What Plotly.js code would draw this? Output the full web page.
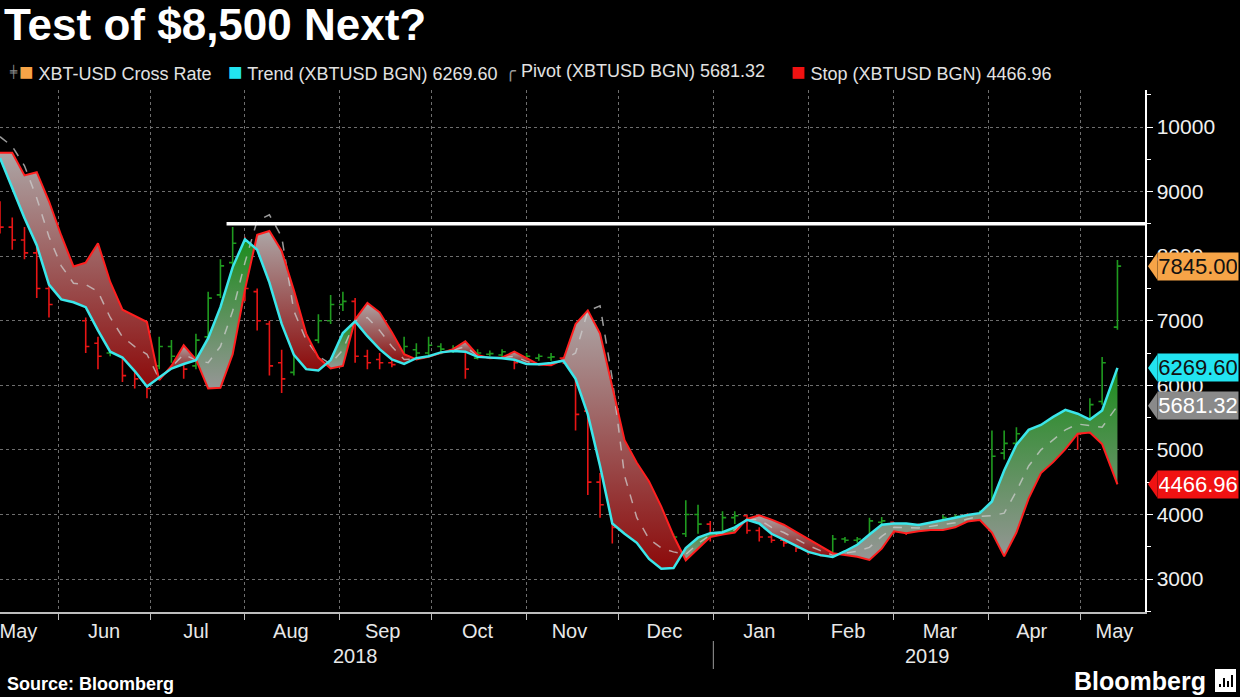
<!DOCTYPE html>
<html>
<head>
<meta charset="utf-8">
<script src="https://cdn.plot.ly/plotly-3.0.1.min.js"></script>
<style>
  html, body { margin: 0; padding: 0; background: #000; }
  #chart { width: 1240px; height: 697px; }
</style>
</head>
<body>
<div id="chart"></div>
<script>
// one sample every four days, May 2018 - May 2019
const dates = [
  '2018-05-13','2018-05-17','2018-05-21','2018-05-25','2018-05-29','2018-06-02','2018-06-06','2018-06-10','2018-06-14','2018-06-18',
  '2018-06-22','2018-06-26','2018-06-30','2018-07-04','2018-07-08','2018-07-12','2018-07-16','2018-07-20','2018-07-24','2018-07-28',
  '2018-08-01','2018-08-05','2018-08-09','2018-08-13','2018-08-17','2018-08-21','2018-08-25','2018-08-29','2018-09-02','2018-09-06',
  '2018-09-10','2018-09-14','2018-09-18','2018-09-22','2018-09-26','2018-09-30','2018-10-04','2018-10-08','2018-10-12','2018-10-16',
  '2018-10-20','2018-10-24','2018-10-28','2018-11-01','2018-11-05','2018-11-09','2018-11-13','2018-11-17','2018-11-21','2018-11-25',
  '2018-11-29','2018-12-03','2018-12-07','2018-12-11','2018-12-15','2018-12-19','2018-12-23','2018-12-27','2018-12-31','2019-01-04',
  '2019-01-08','2019-01-12','2019-01-16','2019-01-20','2019-01-24','2019-01-28','2019-02-01','2019-02-05','2019-02-09','2019-02-13',
  '2019-02-17','2019-02-21','2019-02-25','2019-03-01','2019-03-05','2019-03-09','2019-03-13','2019-03-17','2019-03-21','2019-03-25',
  '2019-03-29','2019-04-02','2019-04-06','2019-04-10','2019-04-14','2019-04-18','2019-04-22','2019-04-26','2019-04-30','2019-05-04',
  '2019-05-08','2019-05-13'
];

// XBT-USD cross rate bars
const barOpen = [
  8700, 8450, 8250, 8050, 7500, 7450, 7600, 7000, 6650, 6500,
  6650, 6300, 6250, 6300, 6600, 6450, 6300, 6750, 7400, 7900,
  8150, 7450, 6950, 6350, 6200, 6450, 6700, 7000, 7250, 7300,
  6450, 6400, 6350, 6400, 6550, 6500, 6600, 6550, 6550, 6420,
  6480, 6470, 6450, 6350, 6420, 6430, 6420, 6350, 5600, 4500,
  4100, 3800, 4100, 3700, 3450, 3300, 3700, 4000, 3850, 3700,
  3950, 3980, 3750, 3650, 3600, 3560, 3480, 3410, 3400, 3620,
  3600, 3620, 3880, 3880, 3800, 3800, 3840, 3880, 3950, 3990,
  3980, 4100, 4950, 5100, 5250, 5100, 5250, 5500, 5300, 5300,
  5750, 6900
];
const barHigh = [
  8850, 8600, 8450, 8200, 7650, 7780, 7750, 7050, 6750, 6800,
  6700, 6420, 6350, 6750, 6700, 6550, 6800, 7450, 7950, 8450,
  8300, 7500, 7000, 6550, 6600, 6820, 7100, 7400, 7450, 7350,
  6550, 6500, 6450, 6750, 6650, 6750, 6650, 6620, 6580, 6560,
  6540, 6560, 6460, 6500, 6490, 6500, 6440, 6380, 5620, 4640,
  4300, 4350, 4200, 3760, 3550, 3700, 4220, 4150, 3900, 4050,
  4050, 4000, 3800, 3700, 3650, 3600, 3520, 3450, 3680, 3650,
  3650, 3950, 3960, 3880, 3830, 3860, 3880, 3990, 4000, 4020,
  4060, 5300, 5300, 5350, 5280, 5300, 5350, 5600, 5350, 5800,
  6440, 7940
];
const barLow = [
  8350, 8100, 7950, 7350, 7050, 7400, 7420, 6500, 6250, 6450,
  6050, 5950, 5800, 6250, 6350, 6100, 6250, 6700, 7350, 7850,
  7300, 6850, 6150, 5880, 6150, 6400, 6650, 6950, 7150, 6350,
  6250, 6250, 6280, 6380, 6420, 6450, 6480, 6500, 6100, 6400,
  6450, 6440, 6250, 6330, 6380, 6380, 6330, 5300, 4300, 3950,
  3550, 3700, 3750, 3350, 3200, 3250, 3650, 3700, 3580, 3680,
  3850, 3700, 3580, 3560, 3500, 3420, 3380, 3350, 3380, 3560,
  3560, 3600, 3820, 3700, 3680, 3760, 3800, 3860, 3900, 3880,
  3960, 4080, 4850, 5000, 4950, 5000, 5100, 5300, 5000, 5250,
  5700, 6860
];
const barClose = [
  8450, 8250, 8050, 7500, 7250, 7600, 7500, 6600, 6450, 6700,
  6150, 6100, 5950, 6600, 6450, 6250, 6700, 7350, 7850, 8200,
  7500, 7000, 6300, 6100, 6500, 6700, 7000, 7250, 7300, 6450,
  6350, 6350, 6320, 6600, 6500, 6620, 6560, 6580, 6250, 6500,
  6490, 6520, 6350, 6450, 6450, 6440, 6360, 5550, 4500, 4150,
  3800, 4100, 3900, 3450, 3300, 3650, 4000, 3850, 3690, 3950,
  3980, 3750, 3650, 3600, 3560, 3480, 3410, 3360, 3620, 3600,
  3620, 3900, 3900, 3800, 3750, 3820, 3850, 3950, 3970, 3960,
  4050, 4900, 5100, 5250, 5050, 5200, 5200, 5350, 5250, 5700,
  6350, 7845.00
];

// Trend (XBTUSD BGN)
const trend = [
  9520, 9040, 8590, 8170, 7560, 7330, 7285, 7210, 6850, 6520,
  6430, 6220, 5980, 6120, 6260, 6330, 6390, 6730, 7210, 7830,
  8260, 8100, 7590, 6950, 6470, 6250, 6230, 6390, 6810, 6990,
  6760, 6560, 6400, 6330, 6420, 6450, 6510, 6530, 6520, 6440,
  6430, 6420, 6395, 6330, 6325, 6345, 6380, 6100, 5550, 4750,
  3860, 3700, 3560, 3310, 3160, 3170, 3480, 3640, 3710, 3725,
  3800, 3915, 3860, 3700, 3610, 3520, 3420, 3370, 3340, 3430,
  3530, 3690, 3840, 3860, 3860, 3835, 3870, 3915, 3950, 3990,
  4020, 4200, 4680, 5080, 5310, 5385, 5510, 5620, 5560, 5470,
  5610, 6269.60
];

// Stop (XBTUSD BGN)
const stop = [
  9600, 9600, 9250, 9300, 8850, 8320, 7840, 7900, 8200, 7600,
  7170, 7070, 6980, 6080, 6300, 6620, 6400, 5950, 5960, 6480,
  7480, 8330, 8390, 8080, 7470, 6800, 6430, 6260, 6300, 7020,
  7275, 7130, 6820, 6480, 6400, 6440, 6500, 6560, 6680, 6470,
  6420, 6430, 6520, 6420, 6320, 6310, 6400, 6950, 7160, 6800,
  5950, 5150, 4800, 4510, 4120, 3670, 3290, 3470, 3650, 3690,
  3720, 3930, 3985, 3920, 3840, 3730, 3620, 3500, 3400, 3370,
  3345, 3295, 3470, 3740, 3710, 3740, 3760, 3760, 3800, 3890,
  3915, 3720, 3350, 3720, 4250, 4640, 4810, 5010, 5250, 5270,
  5090, 4466.96
];

// Pivot (XBTUSD BGN)
const pivot = [
  9850, 9700, 9400, 8900, 8300, 7850, 7580, 7560, 7450, 7050,
  6750, 6600, 6480, 6100, 6280, 6480, 6390, 6350, 6600, 7150,
  7900, 8550, 8640, 8300, 7150, 6700, 6450, 6330, 6550, 7000,
  7050, 6850, 6600, 6400, 6410, 6445, 6505, 6545, 6600, 6455,
  6425, 6425, 6450, 6370, 6322, 6330, 6390, 6500, 7150, 7230,
  6100, 4600, 3950, 3620, 3480, 3420, 3380, 3550, 3680, 3710,
  3760, 3920, 3920, 3800, 3720, 3620, 3520, 3440, 3370, 3400,
  3430, 3490, 3660, 3800, 3790, 3790, 3815, 3840, 3870, 3930,
  3970, 3980, 4020, 4360, 4750, 5000, 5150, 5310, 5400, 5380,
  5350, 5681.32
];

const resistance = 8500;
const resistanceFrom = '2018-07-26';

const monthStarts = ['2018-06-01','2018-07-01','2018-08-01','2018-09-01','2018-10-01','2018-11-01',
  '2018-12-01','2019-01-01','2019-02-01','2019-03-01','2019-04-01','2019-05-01'];
const monthLabelDates = ['2018-05-19','2018-06-16','2018-07-16','2018-08-16','2018-09-15','2018-10-16',
  '2018-11-15','2018-12-16','2019-01-16','2019-02-14','2019-03-16','2019-04-15','2019-05-12'];
const monthLabels = ['May','Jun','Jul','Aug','Sep','Oct','Nov','Dec','Jan','Feb','Mar','Apr','May'];
const yearLabels = ['2018', '2019'];
const yearLabelDates = ['2018-09-06', '2019-03-12'];

const GREEN = '#1f9a1f';
const RED = '#e81515';
const CYAN = '#3be6ea';
const FONT = 'Liberation Sans, Arial, sans-serif';
const n = dates.length;

// split the trend/stop ribbon where the two lines cross
const ms = dates.map(d => Date.parse(d));
function crossing(i) {
    const d0 = trend[i - 1] - stop[i - 1];
    const d1 = trend[i] - stop[i];
    const f = d0 / (d0 - d1);
    return {
        x: ms[i - 1] + f * (ms[i] - ms[i - 1]),
        y: trend[i - 1] + f * (trend[i] - trend[i - 1])
    };
}
const bands = [];
let seg = { up: trend[0] > stop[0], xs: [ms[0]], t: [trend[0]], s: [stop[0]] };
for (let i = 1; i < n; i++) {
    const up = trend[i] > stop[i];
    if (up !== seg.up) {
        const c = crossing(i);
        seg.xs.push(c.x); seg.t.push(c.y); seg.s.push(c.y);
        bands.push(seg);
        seg = { up: up, xs: [c.x], t: [c.y], s: [c.y] };
    }
    seg.xs.push(ms[i]); seg.t.push(trend[i]); seg.s.push(stop[i]);
}
bands.push(seg);

const upScale = [[0, 'rgb(150,150,150)'], [1, 'rgb(28,140,28)']];
const downScale = [[0, 'rgb(140,10,10)'], [1, 'rgb(172,166,166)']];

const traces = bands.map(b => ({
    type: 'scatter',
    x: b.xs.concat(b.xs.slice().reverse()),
    y: b.t.concat(b.s.slice().reverse()),
    mode: 'lines',
    line: { width: 0 },
    fill: 'toself',
    fillgradient: { type: 'vertical', colorscale: b.up ? upScale : downScale },
    hoverinfo: 'skip'
}));

traces.push({
    type: 'scatter', x: dates, y: pivot, mode: 'lines',
    line: { color: 'rgba(205,205,205,0.75)', width: 1.5, dash: 'dash' }
});

// bars coloured by where they close against the trend line
function barTrace(keep, color) {
    const idx = dates.map((d, i) => i).filter(keep);
    return {
        type: 'ohlc',
        x: idx.map(i => dates[i]),
        open: idx.map(i => barOpen[i]),
        high: idx.map(i => barHigh[i]),
        low: idx.map(i => barLow[i]),
        close: idx.map(i => barClose[i]),
        tickwidth: 0.3,
        increasing: { line: { color: color, width: 1.6 } },
        decreasing: { line: { color: color, width: 1.6 } }
    };
}
traces.push(barTrace(i => barClose[i] >= trend[i], GREEN));
traces.push(barTrace(i => barClose[i] < trend[i], RED));

traces.push({
    type: 'scatter', x: dates, y: stop, mode: 'lines',
    line: { color: '#ff1f1f', width: 2 }
});
traces.push({
    type: 'scatter', x: dates, y: trend, mode: 'lines',
    line: { color: CYAN, width: 2.5 }
});

// value tags on the right axis
const tags = [
    { v: barClose[n - 1], bg: '#f6a447', fg: '#111' },
    { v: trend[n - 1], bg: '#22e4f0', fg: '#111' },
    { v: pivot[n - 1], bg: '#8a8a8a', fg: '#fff' },
    { v: stop[n - 1], bg: '#f01212', fg: '#fff' }
];
const annotations = [];
const shapes = [];
const pxY = 1000 / 64.57; // data units per pixel
tags.forEach(tag => {
    annotations.push({
        xref: 'paper', x: 1, xanchor: 'left', xshift: 12,
        yref: 'y', y: tag.v, yanchor: 'middle',
        text: tag.v.toFixed(2), showarrow: false,
        font: { family: FONT, size: 22, color: tag.fg },
        bgcolor: tag.bg, width: 78, height: 25, borderpad: 1
    });
    shapes.push({
        type: 'path', xref: 'paper', yref: 'y', layer: 'above',
        path: `M 1.0026 ${tag.v} L 1.0108 ${tag.v + 13.5 * pxY} L 1.0108 ${tag.v - 13.5 * pxY} Z`,
        fillcolor: tag.bg, line: { width: 0 }
    });
});

// legend row
const sq = c => `<span style="color:${c};font-size:24px">■</span>`;
const legend = [
    { x: 17, html: sq('#f6a447') + ' XBT-USD Cross Rate' },
    { x: 226, html: sq('#22e4f0') + ' Trend (XBTUSD BGN) ' + trend[n - 1].toFixed(2) },
    { x: 503, html: '<span style="color:#999">╭</span> Pivot (XBTUSD BGN) ' + pivot[n - 1].toFixed(2) },
    { x: 789, html: sq('#f01212') + ' Stop (XBTUSD BGN) ' + stop[n - 1].toFixed(2) }
];
legend.forEach(item => {
    annotations.push({
        xref: 'paper', x: item.x / 1145, xanchor: 'left',
        yref: 'paper', y: (612 - 72) / 522, yanchor: 'middle',
        text: item.html, showarrow: false,
        font: { family: FONT, size: 18, color: '#e2e2e2' }
    });
});
annotations.push({
    xref: 'paper', x: 7 / 1145, xanchor: 'left',
    yref: 'paper', y: (612 - 72) / 522, yanchor: 'middle',
    text: '╪', showarrow: false,
    font: { family: 'DejaVu Sans', size: 12, color: '#888' }
});

yearLabels.forEach((label, k) => {
    annotations.push({
        xref: 'x', x: yearLabelDates[k], yref: 'paper', y: (612 - 656) / 522,
        yanchor: 'middle', text: label, showarrow: false,
        font: { family: FONT, size: 20, color: '#e8e8e8' }
    });
});

annotations.push({
    xref: 'paper', x: 5 / 1145, xanchor: 'left',
    yref: 'paper', y: (612 - 684) / 522, yanchor: 'middle',
    text: '<b>Source: Bloomberg</b>', showarrow: false,
    font: { family: FONT, size: 18, color: '#fff' }
});
annotations.push({
    xref: 'paper', x: 1208 / 1145, xanchor: 'right',
    yref: 'paper', y: (612 - 681) / 522, yanchor: 'middle',
    text: '<b>Bloomberg</b>', showarrow: false,
    font: { family: FONT, size: 25, color: '#fff' }
});

// 8,500 resistance line
shapes.push({
    type: 'line', xref: 'x', yref: 'y', layer: 'above',
    x0: resistanceFrom, x1: '2019-05-22', y0: resistance, y1: resistance,
    line: { color: '#ffffff', width: 3.5 }
});
// year separator
shapes.push({
    type: 'line', xref: 'x', yref: 'paper',
    x0: '2019-01-01', x1: '2019-01-01', y0: (612 - 641) / 522, y1: (612 - 669) / 522,
    line: { color: '#9a9a9a', width: 1 }
});
// logo mark: white tile with small dark bars
shapes.push({
    type: 'rect', xref: 'paper', yref: 'paper',
    x0: 1215 / 1145, x1: 1236 / 1145, y0: (612 - 692) / 522, y1: (612 - 669) / 522,
    fillcolor: '#ffffff', line: { width: 0 }
});
[[1219, 684], [1223, 678], [1227, 681], [1231, 675]].forEach(([bx, by]) => {
    shapes.push({
        type: 'rect', xref: 'paper', yref: 'paper',
        x0: bx / 1145, x1: (bx + 2) / 1145, y0: (612 - 687) / 522, y1: (612 - by) / 522,
        fillcolor: '#000', line: { width: 0 }
    });
});

const layout = {
    width: 1240,
    height: 697,
    paper_bgcolor: '#000',
    plot_bgcolor: '#000',
    margin: { l: 0, r: 95, t: 90, b: 85 },
    showlegend: false,
    title: {
        text: '<b>Test of $8,500 Next?</b>',
        font: { family: FONT, size: 44, color: '#fff' },
        xref: 'container', x: 4 / 1240, xanchor: 'left',
        yref: 'container', y: 1 - 25 / 697, yanchor: 'middle'
    },
    xaxis: {
        type: 'date',
        range: ['2018-05-13', '2019-05-22'],
        rangeslider: { visible: false },
        tickmode: 'array',
        tickvals: monthLabelDates,
        ticktext: monthLabels,
        ticks: '',
        ticklabeloverflow: 'allow',
        showgrid: false,
        zeroline: false,
        showline: true,
        linecolor: '#bdbdbd',
        linewidth: 2,
        tickfont: { family: FONT, size: 20, color: '#e8e8e8' },
        minor: {
            tickmode: 'array',
            tickvals: monthStarts,
            ticks: 'outside',
            ticklen: 6,
            tickcolor: '#bdbdbd',
            showgrid: true,
            gridcolor: '#6e6e6e',
            griddash: 'dot',
            gridwidth: 1
        }
    },
    yaxis: {
        side: 'right',
        range: [2489, 10573],
        tickmode: 'linear',
        tick0: 0,
        dtick: 1000,
        tickformat: 'd',
        ticks: 'outside',
        ticklen: 6,
        tickcolor: '#fff',
        showline: true,
        linecolor: '#fff',
        linewidth: 1.5,
        showgrid: true,
        gridcolor: '#6e6e6e',
        griddash: 'dot',
        zeroline: false,
        tickfont: { family: FONT, size: 21, color: '#f0f0f0' },
        minor: { dtick: 500, ticks: 'outside', ticklen: 4, tickcolor: '#fff', showgrid: false }
    },
    annotations: annotations,
    shapes: shapes
};

Plotly.newPlot('chart', traces, layout, { staticPlot: true, displayModeBar: false });
</script>
</body>
</html>
